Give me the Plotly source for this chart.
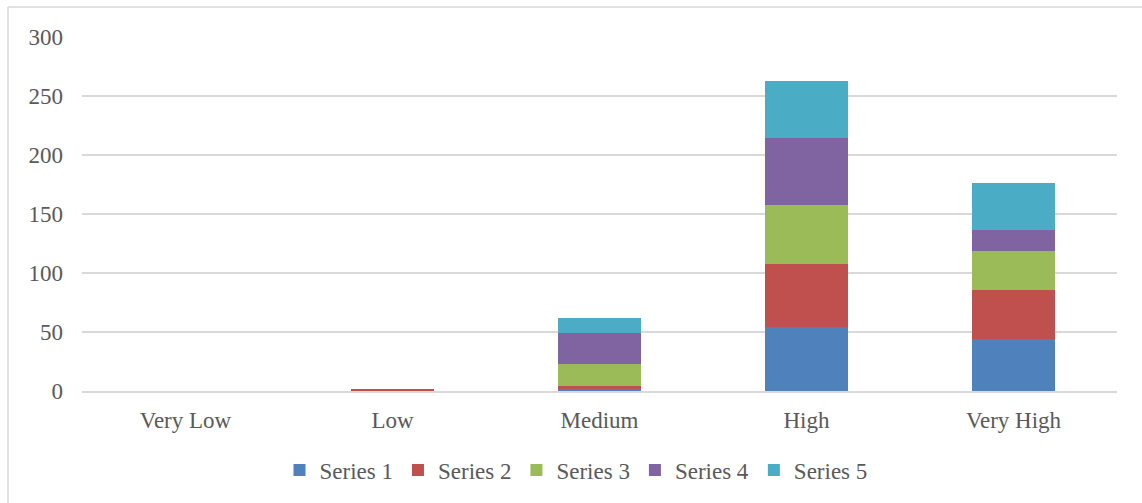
import plotly.graph_objects as go

categories = ["Very Low", "Low", "Medium", "High", "Very High"]
series_names = ["Series 1", "Series 2", "Series 3", "Series 4", "Series 5"]
series1 = [0, 0, 2, 54, 44]
series2 = [0, 2, 2, 54, 42]
series3 = [0, 0, 18.5, 50, 32.5]
series4 = [0, 0, 27, 56.5, 18]
series5 = [0, 0, 12, 48.5, 40]
colors = ["#4f81bd", "#c0504d", "#9bbb59", "#8064a2", "#4bacc6"]
y_ticks = [0, 50, 100, 150, 200, 250, 300]

W, H = 1142, 503
L, R, T, B = 82, 25, 37, 112

fig = go.Figure()
for name, vals, col in zip(series_names, [series1, series2, series3, series4, series5], colors):
    fig.add_trace(go.Bar(name=name, x=categories, y=vals, marker=dict(color=col, line=dict(width=0))))

pw = W - L - R
ph = H - T - B
def px_x(p):
    return (p - L) / pw
def px_y(p):
    return (H - B - p) / ph

fig.update_layout(
    width=W, height=H,
    barmode="stack", bargap=0.6,
    margin=dict(l=L, r=R, t=T, b=B),
    paper_bgcolor="white", plot_bgcolor="white",
    font=dict(family="Liberation Serif", size=23, color="#595959"),
    xaxis=dict(showgrid=False, showline=True, linecolor="#d9d9d9", linewidth=1.5,
               ticks="", tickfont=dict(size=23), ticklabelstandoff=8),
    yaxis=dict(range=[0, 300], tickvals=y_ticks, showgrid=True, gridcolor="#d9d9d9",
               gridwidth=1.5, zeroline=False, ticks="", ticklen=0,
               tickfont=dict(size=23), ticklabelstandoff=18),
    legend=dict(orientation="h", x=px_x(576), xanchor="center", y=px_y(470), yanchor="middle",
                font=dict(size=23), itemwidth=30, traceorder="normal"),
    showlegend=True,
    shapes=[
        dict(type="line", xref="paper", yref="paper", x0=px_x(8), x1=px_x(1142), y0=px_y(7), y1=px_y(7),
             line=dict(color="#d9d9d9", width=1.5)),
        dict(type="line", xref="paper", yref="paper", x0=px_x(8), x1=px_x(8), y0=px_y(7), y1=px_y(503),
             line=dict(color="#d9d9d9", width=1.5)),
    ],
)
fig.write_html("out.html")
